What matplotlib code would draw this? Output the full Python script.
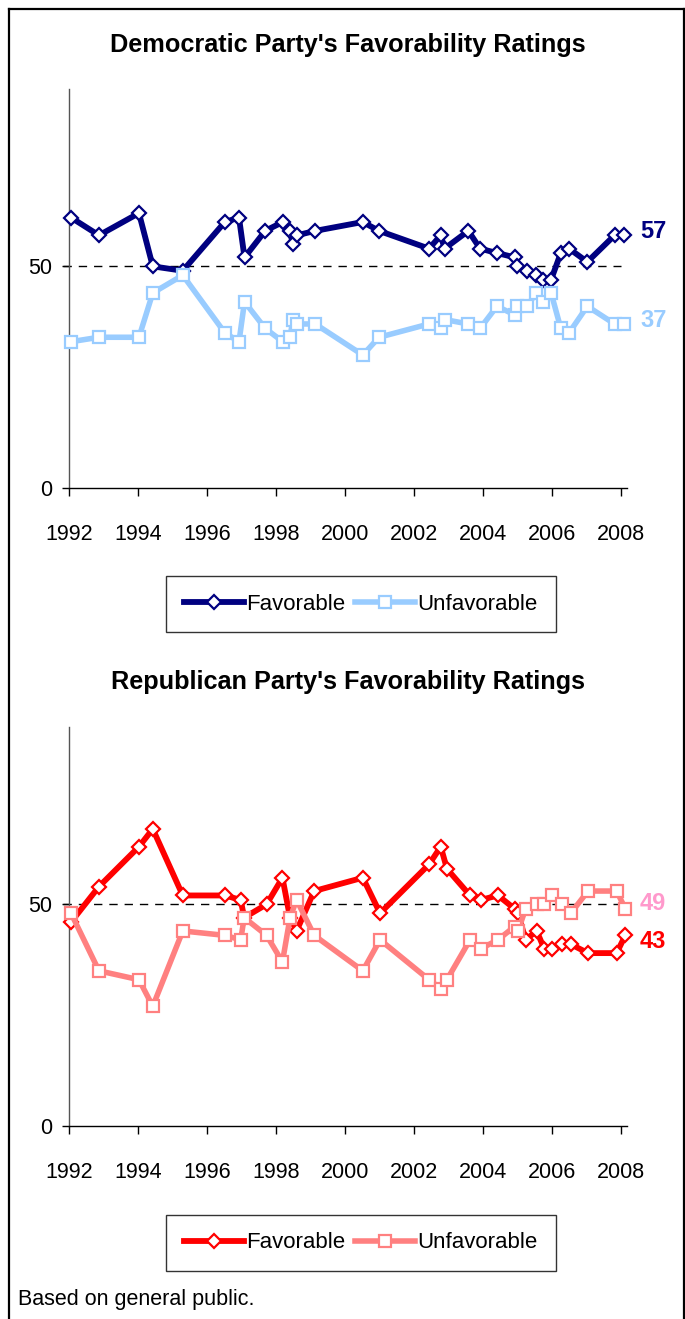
import matplotlib
matplotlib.use('Agg')
import matplotlib.pyplot as plt
from matplotlib.lines import Line2D

# ---------------- data ----------------
dem_years = [1992.05, 1992.86, 1994.02, 1994.42, 1995.29, 1996.51, 1996.92, 1997.08,
             1997.68, 1998.19, 1998.40, 1998.48, 1998.60, 1999.13, 2000.51, 2000.98,
             2002.43, 2002.77, 2002.88, 2003.57, 2003.91, 2004.40, 2004.93, 2004.98,
             2005.27, 2005.54, 2005.73, 2005.97, 2006.25, 2006.49, 2007.02, 2007.81, 2008.07]
dem_fav = [61, 57, 62, 50, 49, 60, 61, 52, 58, 60, 58, 55, 57, 58, 60, 58,
           54, 57, 54, 58, 54, 53, 52, 50, 49, 48, 47, 47, 53, 54, 51, 57, 57]
dem_unfav = [33, 34, 34, 44, 48, 35, 33, 42, 36, 33, 34, 38, 37, 37, 30, 34,
             37, 36, 38, 37, 36, 41, 39, 41, 41, 44, 42, 44, 36, 35, 41, 37, 37]

rep_years = [1992.05, 1992.86, 1994.02, 1994.42, 1995.29, 1996.51, 1996.97, 1997.07,
             1997.72, 1998.18, 1998.40, 1998.59, 1999.10, 2000.51, 2001.01, 2002.43,
             2002.77, 2002.95, 2003.62, 2003.93, 2004.43, 2004.91, 2005.01, 2005.23,
             2005.55, 2005.77, 2006.00, 2006.29, 2006.54, 2007.04, 2007.87, 2008.12]
rep_fav = [46, 54, 63, 67, 52, 52, 51, 47, 50, 56, 47, 44, 53, 56, 48, 59,
           63, 58, 52, 51, 52, 49, 48, 42, 44, 40, 40, 41, 41, 39, 39, 43]
rep_unfav = [48, 35, 33, 27, 44, 43, 42, 47, 43, 37, 47, 51, 43, 35, 42, 33,
             31, 33, 42, 40, 42, 45, 44, 49, 50, 50, 52, 50, 48, 53, 53, 49]

year_ticks = [1992, 1994, 1996, 1998, 2000, 2002, 2004, 2006, 2008]
value_ticks = [0, 50]
titles = ["Democratic Party's Favorability Ratings", "Republican Party's Favorability Ratings"]
series_names = ["Favorable", "Unfavorable"]
dem_end_labels = ["57", "37"]
rep_end_labels = ["49", "43"]
footnote = "Based on general public."

# ---------------- style ----------------
W, H = 685, 1319
plt.rcParams['font.family'] = ['Liberation Sans', 'DejaVu Sans']

fig = plt.figure(figsize=(W / 100, H / 100), dpi=100)


def fx(px):
    return px / W


def fy(py):
    return 1 - py / H


def ax_rect(left, top, right, bottom):
    return [fx(left), fy(bottom), (right - left) / W, (bottom - top) / H]


def panel(rect, years, fav, unfav, c_fav, c_unfav, title, title_y, legend_y,
          labels, label_ys, label_colors):
    ax = fig.add_axes(rect)
    ax.plot(years, fav, color=c_fav, lw=4.2, marker='D', ms=7.5,
            mfc='white', mec=c_fav, mew=1.6, zorder=3, clip_on=False)
    ax.plot(years, unfav, color=c_unfav, lw=4.0, marker='s', ms=8.5,
            mfc='white', mec=c_unfav, mew=1.6, zorder=4, clip_on=False)
    ax.axhline(50, color='black', lw=1.0, ls=(0, (6, 5)), zorder=2,
               xmin=-0.012, xmax=0.99, clip_on=False)
    ax.set_xlim(1992, 2008.17)
    ax.set_ylim(0, 90)
    ax.set_xticks(year_ticks)
    ax.set_xticklabels([str(y) for y in year_ticks])
    ax.set_yticks(value_ticks)
    ax.set_yticklabels([str(v) for v in value_ticks])
    for s in ['top', 'right']:
        ax.spines[s].set_visible(False)
    ax.spines['left'].set_color('#555555')
    ax.spines['bottom'].set_color('black')
    ax.spines['left'].set_linewidth(1.0)
    ax.spines['bottom'].set_linewidth(1.0)
    ax.tick_params(axis='x', direction='out', length=6, width=1, pad=20,
                   labelsize=15.5)
    ax.tick_params(axis='y', direction='out', length=5, width=1, pad=7,
                   labelsize=15.5)
    ax.patch.set_alpha(0)
    fig.text(fx(348), fy(title_y), title, ha='center', va='center',
             fontsize=18.2, fontweight='bold', color='black')
    for lab, ly, lc in zip(labels, label_ys, label_colors):
        fig.text(fx(640), fy(ly), lab, ha='left', va='center', fontsize=17,
                 fontweight='bold', color=lc)
    handles = [
        Line2D([], [], color=c_fav, lw=4.2, marker='D', ms=7.5, mfc='white',
               mec=c_fav, mew=1.6),
        Line2D([], [], color=c_unfav, lw=4.0, marker='s', ms=8.5, mfc='white',
               mec=c_unfav, mew=1.6),
    ]
    leg = fig.legend(handles, series_names, loc='center',
                     bbox_to_anchor=(fx(361), fy(legend_y)), ncol=2,
                     frameon=True, fancybox=False, edgecolor='black',
                     fontsize=16, handlelength=2.7, handletextpad=0.1,
                     columnspacing=0.45, borderpad=0.8, numpoints=1)
    leg.get_frame().set_linewidth(1.0)
    return ax


panel(ax_rect(69.3, 89, 627, 488), dem_years, dem_fav, dem_unfav,
      '#000080', '#99CCFF', titles[0], 45, 604,
      dem_end_labels, [232, 321], ['#000080', '#99CCFF'])
panel(ax_rect(69.3, 727, 627, 1126), rep_years, rep_fav, rep_unfav,
      '#FF0000', '#FF8080', titles[1], 682, 1243,
      rep_end_labels, [904, 941], ['#FF99CC', '#FF0000'])

fig.text(fx(18), fy(1300), footnote, ha='left', va='center', fontsize=15.5,
         color='black')

# outer border
border_kw = dict(color='black', lw=1.6, transform=fig.transFigure, clip_on=False)
fig.add_artist(Line2D([fx(9), fx(683.5)], [fy(9), fy(9)], **border_kw))
fig.add_artist(Line2D([fx(9), fx(9)], [fy(9), fy(1325)], **border_kw))
fig.add_artist(Line2D([fx(683.5), fx(683.5)], [fy(9), fy(1325)], **border_kw))

fig.savefig('out.png', dpi=100)
